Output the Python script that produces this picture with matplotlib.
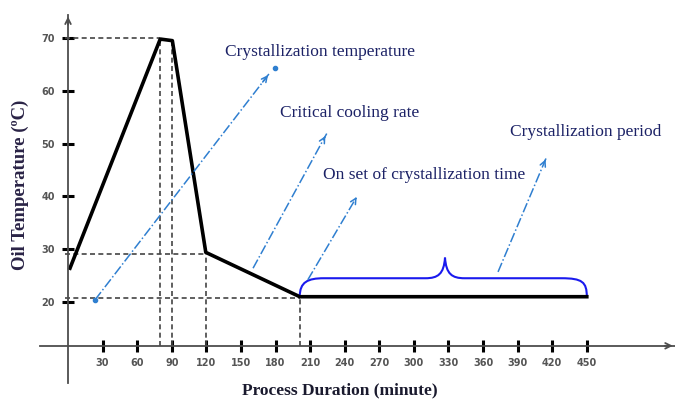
import matplotlib
matplotlib.use("Agg")
import matplotlib.pyplot as plt
from matplotlib.path import Path
from matplotlib.patches import PathPatch

# oil temperature profile
time_min = [1.7, 80, 90.5, 119.5, 201, 450]
temp_c = [26.4, 69.8, 69.5, 29.4, 21.0, 21.0]

x_ticks = [30, 60, 90, 120, 150, 180, 210, 240, 270, 300, 330, 360, 390, 420, 450]
y_ticks = [20, 30, 40, 50, 60, 70]

# guide lines: horizontal (level, reaches to time) and vertical (time, up to level)
h_guide_y = [70.0, 29.0, 20.8]
h_guide_t = [80, 119.5, 201]
v_guide_t = [80, 90.5, 119.5, 201]
v_guide_y = [70.0, 69.5, 29.2, 21.0]

# annotations: label, text position, arrow start, arrow tip
notes = ["Crystallization temperature", "Critical cooling rate",
         "On set of crystallization time", "Crystallization period"]
note_xy = [(136, 67.3), (184, 55.8), (221, 44.0), (383, 52.2)]
arrow_from = [(23.4, 20.4), (160.5, 26.4), (208, 24.2), (373, 25.7)]
arrow_to = [(175, 63.4), (224.4, 51.9), (250.4, 39.9), (415.2, 47.5)]

X_AXIS_AT = 11.7
navy = "#1c2266"
arrow_blue = "#2f7fd0"
gray = "#4d4d4d"

fig = plt.figure(figsize=(6.75, 4.05), dpi=100)
ax = fig.add_axes([0, 0, 1, 1])
ax.set_xlim(-59, 526.5)
ax.set_ylim(0.49, 77.2)
ax.patch.set_alpha(0)

for s in ["top", "right"]:
    ax.spines[s].set_visible(False)
ax.spines["left"].set_position(("data", 0))
ax.spines["bottom"].set_position(("data", X_AXIS_AT))
ax.spines["left"].set_bounds(4.66, 74.4)
ax.spines["bottom"].set_bounds(-24.3, 526.5)
for s in ["left", "bottom"]:
    ax.spines[s].set_color(gray)
    ax.spines[s].set_linewidth(1.3)

# axis arrow heads
ax.annotate("", xy=(0, 74.6), xytext=(0, 72),
            arrowprops=dict(arrowstyle="->", color=gray, lw=1.3))
ax.annotate("", xy=(527, X_AXIS_AT), xytext=(515, X_AXIS_AT),
            arrowprops=dict(arrowstyle="->", color=gray, lw=1.3), annotation_clip=False)

ax.set_xticks(x_ticks)
ax.set_yticks(y_ticks)
ax.tick_params(direction="inout", length=9, width=2.2, color="black")
ax.tick_params(axis="x", pad=4)
ax.tick_params(axis="y", pad=5)
for lab in ax.get_xticklabels() + ax.get_yticklabels():
    lab.set_fontsize(7)
    lab.set_fontweight("bold")
    lab.set_color("#555555")

ax.set_xlabel("Process Duration (minute)", family="Liberation Serif",
              fontsize=12.5, fontweight="bold", color="#1a1a2e", va="center")
ax.xaxis.set_label_coords(0.504, 0.037)
ax.set_ylabel("Oil Temperature (ºC)", family="Liberation Serif",
              fontsize=13.5, fontweight="bold", color="#2a2346", va="center")
ax.yaxis.set_label_coords(0.03, 0.543)

# dashed guides
dash = dict(color="#444444", lw=1.2, linestyle=(0, (3, 2)))
for y, t in zip(h_guide_y, h_guide_t):
    ax.plot([-3, t], [y, y], **dash)
for t, y in zip(v_guide_t, v_guide_y):
    ax.plot([t, t], [X_AXIS_AT, y], **dash)

ax.plot(time_min, temp_c, color="black", lw=2.6)

# brace over the crystallization plateau
verts = [(201, 21.0), (201, 23.8), (208, 24.5), (222, 24.5),
         (310, 24.5),
         (321, 24.5), (326, 25.3), (327, 28.4),
         (328, 25.3), (333, 24.5), (344, 24.5),
         (428, 24.5),
         (446, 24.5), (450, 23.8), (450, 21.0)]
codes = [Path.MOVETO, Path.CURVE4, Path.CURVE4, Path.CURVE4,
         Path.LINETO,
         Path.CURVE4, Path.CURVE4, Path.CURVE4,
         Path.CURVE4, Path.CURVE4, Path.CURVE4,
         Path.LINETO,
         Path.CURVE4, Path.CURVE4, Path.CURVE4]
ax.add_patch(PathPatch(Path(verts, codes), fill=False, edgecolor="#1a1aee", lw=1.5))

for label, (tx, ty), p0, p1 in zip(notes, note_xy, arrow_from, arrow_to):
    ax.plot([p0[0], p1[0]], [p0[1], p1[1]], color=arrow_blue, lw=1.1, linestyle="-.")
    back = (p1[0] - (p1[0] - p0[0]) * 0.05, p1[1] - (p1[1] - p0[1]) * 0.05)
    ax.annotate("", xy=p1, xytext=back,
                arrowprops=dict(arrowstyle="->", color=arrow_blue, lw=1.1))
    ax.text(tx, ty, label, family="Liberation Serif", fontsize=12.5,
            color=navy, va="center", ha="left")

# dots at the ends of the first pointer
ax.plot([arrow_from[0][0], 179.5], [arrow_from[0][1], 64.3], "o",
        color=arrow_blue, ms=3, ls="none")

fig.savefig("out.png", dpi=100)
